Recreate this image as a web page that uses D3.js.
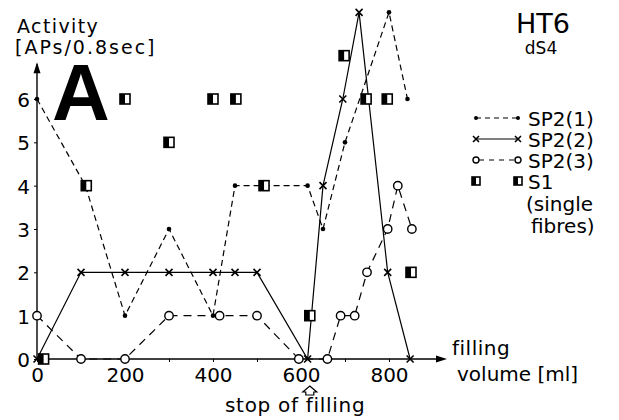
<!DOCTYPE html>
<html><head><meta charset="utf-8">
<script src="https://cdn.jsdelivr.net/npm/d3@7"></script>
<style>
html,body{margin:0;padding:0;background:#fff;}
svg{display:block;}
text{font-family:"DejaVu Sans",sans-serif;fill:#000;}
</style></head><body>
<svg id="c" width="619" height="420"></svg>
<script>
// ---- data ----
const sp21X = [0,110,200,300,400,450,615,650,700,800,842];
const sp21Y = [6,4,1,3,1,4,4,3,5,8,6];
const sp22X = [0,100,200,300,400,450,500,615,650,695,732,797,848];
const sp22Y = [0,2,2,2,2,2,2,0,4,6,8,2,0];
const sp23X = [0,100,200,300,415,500,595,660,690,722,750,797,820,852];
const sp23Y = [1,0,0,1,1,1,0,0,1,1,2,3,4,3];
const s1X = [15,112,200,300,400,452,516,620,698,748,796,850];
const s1Y = [0,4,6,5,6,6,4,1,7,6,6,2];
const xTickLabels = [0,200,400,600,800];
const xMinorTicks = [100,300,500,700];
const yTickLabels = [0,1,2,3,4,5,6];
const legendNames = ["SP2(1)","SP2(2)","SP2(3)","S1"];
const stopVolume = 620;

const svg = d3.select("#c");
const x = d3.scaleLinear().domain([0,800]).range([37,389]);
const y = d3.scaleLinear().domain([0,6]).range([359,99]);

const zip = (a,b)=>a.map((v,i)=>[v,b[i]]);
const line = d3.line().x(d=>x(d[0])).y(d=>y(d[1]));

// axes
const gx = svg.append("g").attr("transform",`translate(0,${y(0)})`)
  .call(d3.axisBottom(x).tickValues(xTickLabels).tickSize(3).tickPadding(6).tickFormat(d3.format("d")));
gx.select(".domain").remove();
gx.selectAll("text").attr("font-size",20).attr("font-family","DejaVu Sans");
gx.selectAll("line").attr("stroke","#000").attr("stroke-width",1);
svg.append("g").attr("transform",`translate(0,${y(0)})`)
  .call(d3.axisBottom(x).tickValues(xMinorTicks).tickSize(3).tickFormat(""))
  .call(g=>g.select(".domain").remove());

const gy = svg.append("g").attr("transform",`translate(${x(0)},0)`)
  .call(d3.axisLeft(y).tickValues(yTickLabels).tickSize(3).tickPadding(4).tickFormat(d3.format("d")));
gy.select(".domain").remove();
gy.selectAll("text").attr("font-size",20).attr("font-family","DejaVu Sans").attr("dy","0.38em");

// axis lines with arrows
svg.append("line").attr("x1",x(0)).attr("x2",x(925)).attr("y1",y(0)).attr("y2",y(0))
  .attr("stroke","#000").attr("stroke-width",1.4);
svg.append("path").attr("d",`M${x(925)+3},${y(0)} l-11,-3.5 l0,7 z`).attr("fill","#000");
svg.append("line").attr("x1",x(0)).attr("x2",x(0)).attr("y1",y(0)).attr("y2",y(6.8))
  .attr("stroke","#000").attr("stroke-width",1.4);
svg.append("path").attr("d",`M${x(0)},${y(6.8)-2} l-3.5,11 l7,0 z`).attr("fill","#000");

// lines
svg.append("path").datum(zip(sp21X,sp21Y)).attr("d",line).attr("fill","none")
  .attr("stroke","#000").attr("stroke-width",1.2).attr("stroke-dasharray","6,4");
svg.append("path").datum(zip(sp22X,sp22Y)).attr("d",line).attr("fill","none")
  .attr("stroke","#000").attr("stroke-width",1.2);
svg.append("path").datum(zip(sp23X,sp23Y)).attr("d",line).attr("fill","none")
  .attr("stroke","#000").attr("stroke-width",1.2).attr("stroke-dasharray","8,6");

// markers
function dot(g,cx,cy,r){g.append("circle").attr("cx",cx).attr("cy",cy).attr("r",r||2.3).attr("fill","#000");}
function cross(g,cx,cy,s){s=s||3.5;g.append("path").attr("d",`M${cx-s},${cy-s}L${cx+s},${cy+s}M${cx-s},${cy+s}L${cx+s},${cy-s}`)
  .attr("stroke","#000").attr("stroke-width",1.6);}
function circ(g,cx,cy,r){g.append("circle").attr("cx",cx).attr("cy",cy).attr("r",r||4.2).attr("fill","#fff")
  .attr("stroke","#000").attr("stroke-width",1.4);}
function sq(g,cx,cy,w){w=w||10;const h=w;
  g.append("rect").attr("x",cx-w/2).attr("y",cy-h/2).attr("width",w).attr("height",h).attr("fill","#fff")
   .attr("stroke","#000").attr("stroke-width",1.6);
  g.append("rect").attr("x",cx-w/2).attr("y",cy-h/2).attr("width",w/2).attr("height",h).attr("fill","#000");}

const mk = svg.append("g");
sp21X.forEach((v,i)=>dot(mk,x(v),y(sp21Y[i])));
sp22X.forEach((v,i)=>cross(mk,x(v),y(sp22Y[i])));
sp23X.forEach((v,i)=>circ(mk,x(v),y(sp23Y[i])));
s1X.forEach((v,i)=>sq(mk,x(v),y(s1Y[i])));

// titles
svg.append("text").attr("x",17).attr("y",33).attr("font-size",19).attr("letter-spacing",1.4).text("Activity");
svg.append("text").attr("x",15).attr("y",54).attr("font-size",19).attr("letter-spacing",2).text("[APs/0.8sec]");
svg.append("text").attr("x",52).attr("y",120).attr("font-size",80).attr("font-weight","bold")
  .style("font-family","'Liberation Sans',Arial,sans-serif").text("A");
svg.append("text").attr("x",543).attr("y",33).attr("font-size",27).attr("text-anchor","middle").text("HT6");
svg.append("text").attr("x",541).attr("y",54).attr("font-size",17).attr("text-anchor","middle").text("dS4");

// x axis label
svg.append("text").attr("x",452).attr("y",355).attr("font-size",20).attr("letter-spacing",0.5).text("filling");
svg.append("text").attr("x",457).attr("y",381).attr("font-size",20).text("volume [ml]");
svg.append("text").attr("x",225).attr("y",412).attr("font-size",20).attr("letter-spacing",0.7).text("stop of filling");
const sx = x(stopVolume);
svg.append("path").attr("d",`M${sx},386 L${sx+7},392 L${sx+4},392 L${sx+4},395 L${sx-4},395 L${sx-4},392 L${sx-7},392 Z`)
  .attr("fill","#fff").attr("stroke","#000").attr("stroke-width",1.2);

// legend
const lx1=476, lx2=518, tx=528;
const rows=[118,139,160,181];
const lg = svg.append("g");
lg.append("line").attr("x1",lx1).attr("x2",lx2).attr("y1",rows[0]).attr("y2",rows[0]).attr("stroke","#000").attr("stroke-width",1.2).attr("stroke-dasharray","5,4");
dot(lg,lx1,rows[0],2); dot(lg,lx2,rows[0],2);
lg.append("line").attr("x1",lx1).attr("x2",lx2).attr("y1",rows[1]).attr("y2",rows[1]).attr("stroke","#000").attr("stroke-width",1.2);
cross(lg,lx1,rows[1],3); cross(lg,lx2,rows[1],3);
lg.append("line").attr("x1",lx1+3).attr("x2",lx2-3).attr("y1",rows[2]).attr("y2",rows[2]).attr("stroke","#000").attr("stroke-width",1.2).attr("stroke-dasharray","5,5");
circ(lg,lx1,rows[2],3); circ(lg,lx2,rows[2],3);
sq(lg,lx1,rows[3],8); sq(lg,lx2,rows[3],8);
legendNames.forEach((n,i)=>lg.append("text").attr("x",tx).attr("y",rows[i]+7.5).attr("font-size",20).text(n));
lg.append("text").attr("x",526).attr("y",rows[3]+7.5+22).attr("font-size",20).text("(single");
lg.append("text").attr("x",531).attr("y",rows[3]+7.5+44).attr("font-size",20).text("fibres)");
</script></body></html>
